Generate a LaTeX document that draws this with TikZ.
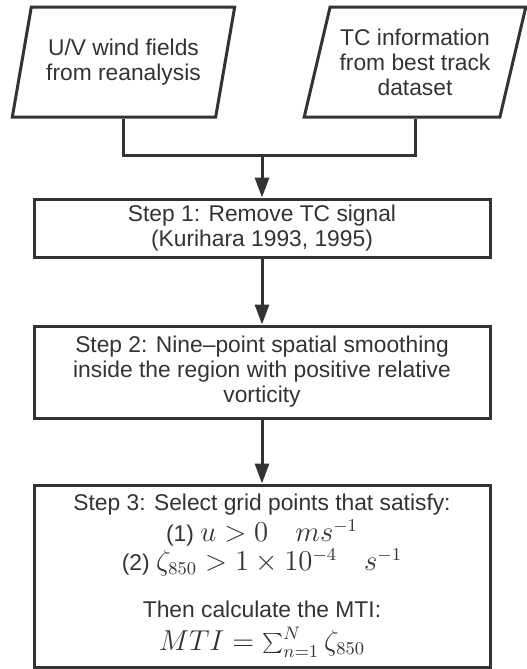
\documentclass[tikz,border=0pt]{standalone}
\usepackage{fontspec}
\setmainfont{Liberation Sans}
\usetikzlibrary{shapes.geometric,arrows.meta}
\definecolor{flowgray}{HTML}{333333}
\newcommand{\flowmath}[1]{{\fontsize{13.5pt}{14pt}\selectfont$#1$}}

\tikzset{
    stepbox/.style={draw=flowgray, line width=1.5pt, text=flowgray, align=center,
        minimum width=228pt, inner sep=0pt},
    databox/.style={draw=flowgray, line width=1.5pt, text=flowgray, align=center,
        shape=trapezium, trapezium left angle=71, trapezium right angle=109,
        trapezium stretches=true, minimum width=111.5pt, minimum height=55pt, inner sep=0pt},
    link/.style={draw=flowgray, line width=1.5pt},
    flowarrow/.style={link, -{Triangle[length=10pt,width=7pt]}}
}

\begin{document}
\begin{tikzpicture}[x=0.5pt, y=-0.5pt, font=\fontsize{11.4pt}{12.5pt}\selectfont]
    \useasboundingbox (0,0) rectangle (526,669);
    % inputs
    \node[databox] (uv) at (123.5,62) {U/V wind fields\\from reanalysis};
    \node[databox] (tc) at (415,62) {TC information\\from best track\\dataset};
    \coordinate (join) at (262,155);
    % steps
    \node[stepbox, minimum height=29pt] (s1) at (262,228) {Step 1: Remove TC signal\\(Kurihara 1993, 1995)};
    \node[stepbox, minimum height=46pt] (s2) at (262,372) {Step 2: Nine--point spatial smoothing\\inside the region with positive relative\\vorticity};
    \node[stepbox, minimum height=91pt] (s3) at (262,576) {Step 3: Select grid points that satisfy:\\[1pt]
        (1) \flowmath{u>0\quad ms^{-1}}\\[0pt]
        (2) \flowmath{\zeta_{850}>1\times10^{-4}\quad s^{-1}}\\[11pt]
        Then calculate the MTI:\\[4pt]
        \flowmath{MTI=\sum_{n=1}^{N}\zeta_{850}}};
    % connectors
    \draw[link] (uv.south) |- (join) -| (tc.south);
    \draw[flowarrow] (join) -- (s1.north);
    \draw[flowarrow] (s1) -- (s2);
    \draw[flowarrow] (s2) -- (s3);
\end{tikzpicture}
\end{document}
